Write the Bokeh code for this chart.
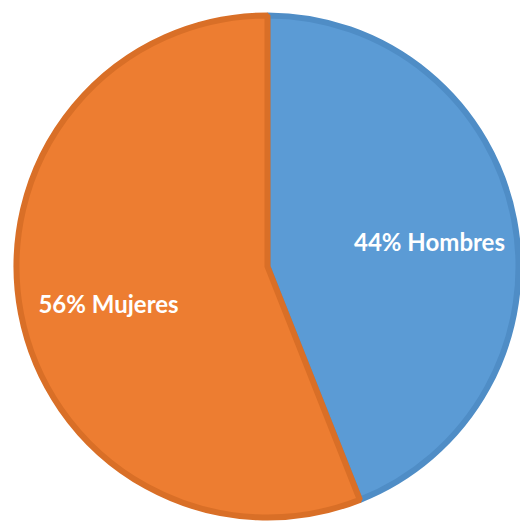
from bokeh.plotting import figure
from bokeh.models import Range1d
from bokeh.core.properties import value
from bokeh.embed import file_html
from bokeh.resources import INLINE
import math

labels = ["Hombres", "Mujeres"]
shares = [44, 56]
colors = ["#5B9BD5", "#ED7D31"]
edges = ["#4F8DC6", "#D96F27"]

W, H = 520, 523
p = figure(width=W, height=H, output_backend="svg", toolbar_location=None,
           x_range=Range1d(0, W), y_range=Range1d(0, H),
           min_border=0)
p.axis.visible = False
p.grid.visible = False
p.outline_line_color = None
p.background_fill_color = "white"

cx, cy, r = 267, H - 266, 254
# clockwise from top
start = math.pi / 2
text_pos = [(429, H - 241), (108, H - 303)]
for lab, s, c, e, (tx, ty) in zip(labels, shares, colors, edges, text_pos):
    sweep = s / 100 * 2 * math.pi
    end = start - sweep
    p.wedge(x=[cx], y=[cy], radius=r - 3, start_angle=[end], end_angle=[start],
            fill_color=c, line_color=e, line_width=6)
    start = end
    p.text(x=[tx], y=[ty], text=[f"{s}% {lab}"], text_align="center",
           text_baseline="middle", text_color="white", text_font=value("Lato"),
           text_font_style="bold", text_font_size="24px")

open("out.html", "w").write(file_html(p, INLINE))
